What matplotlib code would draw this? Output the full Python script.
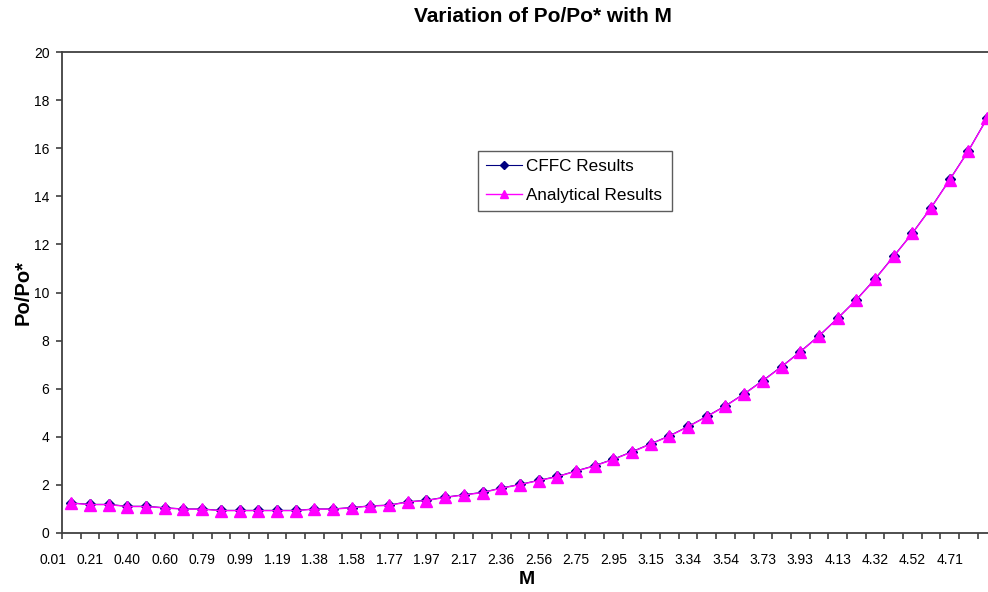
import matplotlib
matplotlib.use("Agg")
import matplotlib.pyplot as plt
import matplotlib.transforms as mtransforms

plt.rcParams['font.family'] = ['Liberation Sans', 'DejaVu Sans']

# ---- data ----
tick_labels = ["0.01", "0.21", "0.40", "0.60", "0.79", "0.99", "1.19", "1.38",
               "1.58", "1.77", "1.97", "2.17", "2.36", "2.56", "2.75", "2.95",
               "3.15", "3.34", "3.54", "3.73", "3.93", "4.13", "4.32", "4.52",
               "4.71"]

analytical = [1.24, 1.18, 1.18, 1.10, 1.10, 1.04, 0.99, 0.99, 0.93, 0.93,
              0.93, 0.93, 0.93, 0.99, 0.99, 1.05, 1.12, 1.15, 1.29, 1.35,
              1.48, 1.58, 1.68, 1.86, 2.01, 2.18, 2.34, 2.57, 2.79, 3.06,
              3.37, 3.70, 4.03, 4.42, 4.84, 5.28, 5.78, 6.33, 6.91, 7.53,
              8.19, 8.92, 9.69, 10.55, 11.50, 12.46, 13.52, 14.69, 15.89, 17.24]

cffc = [1.25, 1.19, 1.19, 1.11, 1.11, 1.05, 1.00, 1.00, 0.94, 0.94,
        0.94, 0.94, 0.94, 1.00, 1.00, 1.06, 1.13, 1.16, 1.30, 1.36,
        1.49, 1.59, 1.69, 1.87, 2.02, 2.19, 2.35, 2.58, 2.80, 3.07,
        3.38, 3.71, 4.04, 4.43, 4.85, 5.29, 5.79, 6.34, 6.92, 7.54,
        8.20, 8.93, 9.70, 10.56, 11.51, 12.47, 13.53, 14.70, 15.90, 17.25]

n_cat = len(analytical)
x = [i + 0.5 for i in range(n_cat)]

W, H = 988, 592
fig = plt.figure(figsize=(W / 100, H / 100), dpi=100)
fig.patch.set_facecolor('white')

left, right, bottom, top = 62, 996.5, 533, 52
ax = fig.add_axes([left / W, 1 - bottom / H, (right - left) / W, (bottom - top) / H])

ax.plot(x, cffc, color='#000080', lw=0.8, marker='D', markersize=5.5,
        markerfacecolor='#000080', markeredgecolor='#000080', label='CFFC Results', zorder=3)
ax.plot(x, analytical, color='#FF00FF', lw=1.0, marker='^', markersize=8,
        markerfacecolor='#FF00FF', markeredgecolor='#FF00FF', label='Analytical Results', zorder=4)

ax.set_xlim(0, n_cat)
ax.set_ylim(0, 20)
ax.set_yticks(range(0, 21, 2))
ax.set_xticks(range(0, n_cat + 1))
ax.set_xticklabels([])

for s in ['left', 'bottom', 'top', 'right']:
    ax.spines[s].set_color('#404040')
    ax.spines[s].set_linewidth(1.3)

ax.tick_params(axis='both', direction='out', length=4, width=1.2, color='#404040')
ax.tick_params(axis='y', labelsize=10, pad=5, labelcolor='black')

# category labels (every second category)
trans = mtransforms.blended_transform_factory(ax.transData, ax.transAxes)
for k, lab in enumerate(tick_labels):
    ax.text(2 * k - 0.5, -27 / (bottom - top), lab, transform=trans,
            ha='center', va='center', fontsize=10, clip_on=False)

fig.text(543 / W, 1 - 17 / H, "Variation of Po/Po* with M", ha='center', va='center',
         fontsize=15, fontweight='bold')
fig.text(527 / W, 1 - 580 / H, "M", ha='center', va='center', fontsize=14, fontweight='bold')
fig.text(23 / W, 1 - 293 / H, "Po/Po*", ha='center', va='center', fontsize=14.5,
         fontweight='bold', rotation=90)

leg = ax.legend(loc='upper left',
                bbox_to_anchor=(478 / W, 1 - 210 / H, (672 - 478) / W, (210 - 151) / H),
                bbox_transform=fig.transFigure, mode='expand',
                fontsize=12.3, frameon=True, fancybox=False, borderaxespad=0,
                handlelength=2.1, handletextpad=0.25, borderpad=0.48, labelspacing=0.8,
                markerscale=0.8)
leg.get_frame().set_edgecolor('#333333')
leg.get_frame().set_linewidth(1.0)

fig.savefig('out.png', dpi=100, facecolor='white')
